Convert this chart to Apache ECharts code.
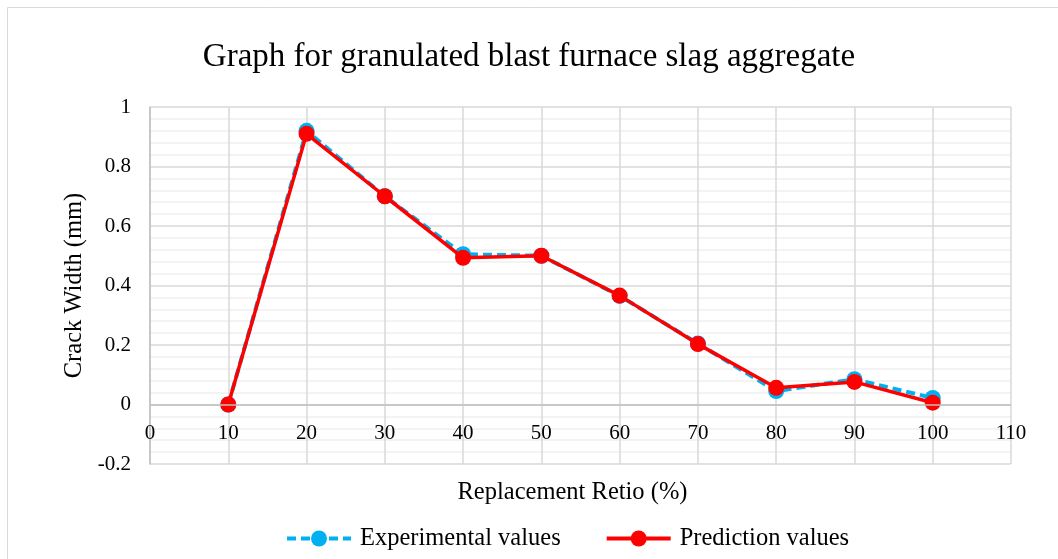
<!DOCTYPE html>
<html lang="en">
<head>
    <meta charset="UTF-8">
    <title>Crack width chart</title>
    <script src="https://cdn.jsdelivr.net/npm/echarts@6/dist/echarts.min.js"></script>
    <style>
        html, body { margin: 0; padding: 0; background: #fff; }
        #container { width: 1058px; height: 559px; }
    </style>
</head>
<body>
    <div id="container"></div>
<script>
    var ratio = [10, 20, 30, 40, 50, 60, 70, 80, 90, 100];
    var experimental = [0, 0.92, 0.70, 0.505, 0.50, 0.365, 0.205, 0.045, 0.085, 0.022];
    var prediction = [0, 0.91, 0.70, 0.493, 0.50, 0.366, 0.203, 0.056, 0.076, 0.006];

    var pairs = function (xs, ys) {
        return xs.map(function (x, i) { return [x, ys[i]]; });
    };

    var font = '"Liberation Serif", "Times New Roman", serif';
    var chart = echarts.init(document.getElementById('container'));

    chart.setOption({
        animation: false,
        textStyle: { fontFamily: font },
        graphic: [{
            type: 'rect',
            shape: { x: 7.5, y: 7.5, width: 1060, height: 560 },
            style: { fill: 'none', stroke: '#d9d9d9', lineWidth: 1 }
        }],
        title: {
            text: 'Graph for granulated blast furnace slag aggregate',
            left: 'center',
            top: 36,
            textStyle: { fontFamily: font, fontSize: 33, fontWeight: 'normal', color: '#000' }
        },
        legend: {
            bottom: 3,
            left: 280,
            itemWidth: 64,
            itemHeight: 20,
            itemGap: 44,
            lineStyle: { width: 4 },
            textStyle: { fontFamily: font, fontSize: 24.5, color: '#000', padding: [0, 0, 0, 4] },
            data: ['Experimental values', 'Prediction values']
        },
        grid: { left: 150, right: 47, top: 107, bottom: 95 },
        xAxis: {
            type: 'value',
            min: 0,
            max: 110,
            interval: 10,
            name: 'Replacement Retio (%)',
            nameLocation: 'middle',
            nameGap: 16,
            nameTextStyle: {
                fontFamily: font, fontSize: 24.5, color: '#000',
                verticalAlign: 'top', padding: [0, 16, 0, 0]
            },
            axisLine: { show: false, onZero: false },
            axisTick: { show: false },
            axisLabel: { fontFamily: font, fontSize: 21, color: '#000', margin: -41 },
            splitLine: { show: true, lineStyle: { color: '#d9d9d9', width: 1.5 } }
        },
        yAxis: {
            type: 'value',
            min: -0.2,
            max: 1,
            interval: 0.2,
            name: 'Crack Width (mm)',
            nameLocation: 'middle',
            nameGap: 58,
            nameTextStyle: { fontFamily: font, fontSize: 24.5, color: '#000' },
            axisLine: { show: true, lineStyle: { color: '#bfbfbf', width: 1.5 } },
            axisTick: { show: false },
            axisLabel: {
                fontFamily: font, fontSize: 21, color: '#000', margin: 19,
                formatter: function (v) { return String(Math.round(v * 10) / 10); }
            },
            splitLine: { show: true, lineStyle: { color: '#d9d9d9', width: 1.5 } },
            minorTick: { show: false, splitNumber: 5 },
            minorSplitLine: { show: true, lineStyle: { color: '#f0f0f0', width: 1.5 } }
        },
        series: [
            {
                name: 'Experimental values',
                type: 'line',
                data: pairs(ratio, experimental),
                symbol: 'circle',
                symbolSize: 16,
                itemStyle: { color: '#00b0f0' },
                lineStyle: { color: '#00b0f0', width: 4, type: [9, 5] },
                markLine: {
                    silent: true,
                    symbol: 'none',
                    label: { show: false },
                    lineStyle: { color: '#bfbfbf', width: 1.5, type: 'solid' },
                    data: [{ yAxis: 0 }]
                },
                z: 2
            },
            {
                name: 'Prediction values',
                type: 'line',
                data: pairs(ratio, prediction),
                symbol: 'circle',
                symbolSize: 16,
                itemStyle: { color: '#ff0000' },
                lineStyle: { color: '#ff0000', width: 3.5 },
                z: 3
            }
        ]
    });
</script>
</body>
</html>
